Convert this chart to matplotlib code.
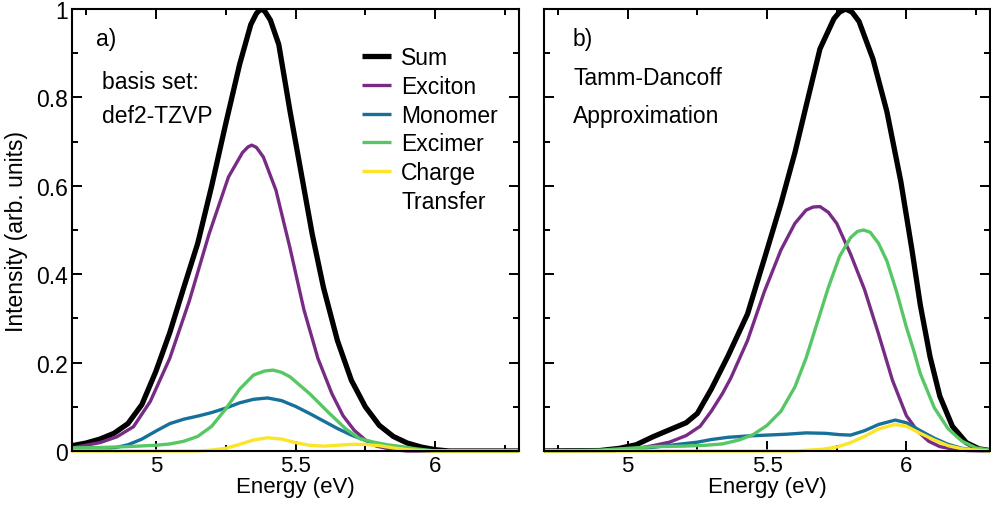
import matplotlib
matplotlib.use("Agg")
import matplotlib.pyplot as plt
from matplotlib.lines import Line2D
from matplotlib.ticker import MultipleLocator

plt.rcParams['font.family'] = ['Liberation Sans', 'DejaVu Sans']
plt.rcParams['font.size'] = 16.5

# ---- panel a) basis set def2-TZVP ----
sum_a_e = [4.70, 4.75, 4.80, 4.85, 4.90, 4.95, 5.00, 5.05, 5.10, 5.15, 5.20, 5.25, 5.30, 5.34, 5.36, 5.375,
           5.39, 5.41, 5.44, 5.48, 5.52, 5.56, 5.60, 5.65, 5.70, 5.75, 5.80, 5.85, 5.90, 5.95, 6.00, 6.05, 6.30]
sum_a_v = [0.012, 0.018, 0.027, 0.040, 0.062, 0.105, 0.180, 0.268, 0.37, 0.47, 0.60, 0.74, 0.875, 0.965, 0.99, 1.0,
           0.995, 0.975, 0.92, 0.77, 0.63, 0.49, 0.37, 0.25, 0.16, 0.10, 0.058, 0.033, 0.018, 0.009, 0.003, 0.0, 0.0]

exc_a_e = [4.70, 4.80, 4.86, 4.92, 4.98, 5.05, 5.12, 5.19, 5.26, 5.31, 5.33, 5.343, 5.36, 5.385, 5.43, 5.48,
           5.53, 5.58, 5.63, 5.67, 5.71, 5.75, 5.79, 5.85, 5.90, 6.30]
exc_a_v = [0.007, 0.019, 0.032, 0.055, 0.112, 0.21, 0.34, 0.49, 0.62, 0.675, 0.688, 0.692, 0.687, 0.665, 0.59, 0.46,
           0.32, 0.21, 0.13, 0.08, 0.047, 0.025, 0.011, 0.003, 0.0, 0.0]

mon_a_e = [4.70, 4.80, 4.85, 4.90, 4.95, 5.00, 5.05, 5.10, 5.15, 5.20, 5.25, 5.30, 5.35, 5.40, 5.45,
           5.50, 5.55, 5.60, 5.65, 5.70, 5.75, 5.80, 5.85, 5.90, 5.95, 6.30]
mon_a_v = [0.004, 0.004, 0.007, 0.014, 0.027, 0.045, 0.062, 0.072, 0.079, 0.087, 0.097, 0.109, 0.117, 0.12, 0.114,
           0.101, 0.085, 0.068, 0.051, 0.036, 0.024, 0.014, 0.008, 0.003, 0.001, 0.0]

exm_a_e = [4.70, 4.80, 4.90, 5.00, 5.05, 5.10, 5.15, 5.20, 5.25, 5.30, 5.35, 5.39, 5.42, 5.45, 5.48, 5.55,
           5.62, 5.68, 5.73, 5.78, 5.83, 5.88, 5.93, 6.00, 6.30]
exm_a_v = [0.007, 0.008, 0.010, 0.013, 0.016, 0.022, 0.033, 0.056, 0.095, 0.14, 0.172, 0.181, 0.183, 0.178, 0.168, 0.13,
           0.086, 0.05, 0.028, 0.02, 0.014, 0.01, 0.005, 0.0, 0.0]

ct_a_e = [4.70, 5.15, 5.20, 5.25, 5.30, 5.35, 5.40, 5.45, 5.50, 5.55, 5.60, 5.65, 5.70, 5.75,
          5.80, 5.85, 5.90, 5.95, 6.00, 6.30]
ct_a_v = [0.0, 0.0, 0.002, 0.006, 0.015, 0.025, 0.03, 0.027, 0.019, 0.013, 0.011, 0.013, 0.015, 0.015,
          0.012, 0.007, 0.003, 0.001, 0.0, 0.0]

# ---- panel b) Tamm-Dancoff ----
sum_b_e = [4.70, 4.90, 4.97, 5.03, 5.09, 5.15, 5.21, 5.25, 5.30, 5.36, 5.43, 5.50, 5.55, 5.60, 5.64,
           5.69, 5.74, 5.76, 5.782, 5.805, 5.83, 5.88, 5.93, 5.98, 6.02, 6.05, 6.085, 6.12, 6.165, 6.215, 6.26, 6.30]
sum_b_v = [0.0, 0.001, 0.006, 0.014, 0.032, 0.048, 0.064, 0.085, 0.14, 0.215, 0.31, 0.455, 0.56, 0.675, 0.78,
           0.91, 0.978, 0.993, 1.0, 0.993, 0.972, 0.887, 0.768, 0.61, 0.455, 0.33, 0.213, 0.124, 0.056, 0.019, 0.005, 0.001]

exc_b_e = [4.70, 4.95, 5.01, 5.09, 5.15, 5.21, 5.26, 5.30, 5.34, 5.37, 5.43, 5.49, 5.55, 5.60, 5.64, 5.665,
           5.69, 5.72, 5.75, 5.80, 5.85, 5.90, 5.95, 6.00, 6.04, 6.08, 6.12, 6.17, 6.22, 6.30]
exc_b_v = [0.0, 0.001, 0.003, 0.012, 0.02, 0.035, 0.056, 0.09, 0.13, 0.165, 0.25, 0.36, 0.455, 0.515, 0.545, 0.552,
           0.553, 0.54, 0.515, 0.445, 0.365, 0.265, 0.16, 0.08, 0.045, 0.022, 0.01, 0.004, 0.001, 0.0]

mon_b_e = [4.70, 4.95, 5.01, 5.10, 5.18, 5.25, 5.30, 5.36, 5.43, 5.50, 5.57, 5.64, 5.71, 5.76, 5.80,
           5.85, 5.90, 5.96, 6.00, 6.05, 6.10, 6.15, 6.20, 6.25, 6.30]
mon_b_v = [0.0, 0.001, 0.003, 0.009, 0.015, 0.02, 0.026, 0.031, 0.034, 0.036, 0.038, 0.041, 0.04, 0.037, 0.036,
           0.046, 0.06, 0.07, 0.064, 0.046, 0.029, 0.015, 0.006, 0.002, 0.0]

exm_b_e = [4.70, 4.90, 5.00, 5.10, 5.20, 5.28, 5.34, 5.40, 5.45, 5.50, 5.55, 5.60, 5.64, 5.68, 5.72,
           5.76, 5.80, 5.825, 5.846, 5.87, 5.90, 5.93, 5.965, 6.00, 6.025, 6.05, 6.10, 6.15, 6.20, 6.25, 6.30]
exm_b_v = [0.0, 0.002, 0.006, 0.01, 0.011, 0.013, 0.016, 0.025, 0.037, 0.058, 0.09, 0.145, 0.21, 0.29, 0.37,
           0.44, 0.483, 0.497, 0.50, 0.495, 0.47, 0.43, 0.36, 0.28, 0.23, 0.175, 0.098, 0.05, 0.022, 0.007, 0.002]

ct_b_e = [4.70, 5.60, 5.65, 5.70, 5.75, 5.80, 5.85, 5.90, 5.96, 6.00, 6.05, 6.10, 6.15, 6.20, 6.25, 6.30]
ct_b_v = [0.0, 0.0, 0.002, 0.004, 0.009, 0.019, 0.033, 0.05, 0.06, 0.056, 0.04, 0.025, 0.012, 0.005, 0.002, 0.0]

labels = ['Sum', 'Exciton', 'Monomer', 'Excimer', 'Charge']
colors = ['black', '#772b85', '#17709a', '#57c765', '#fbe42a']
widths = [3.8, 2.4, 2.4, 2.4, 2.4]

panels = [
    ([sum_a_e, exc_a_e, mon_a_e, exm_a_e, ct_a_e], [sum_a_v, exc_a_v, mon_a_v, exm_a_v, ct_a_v],
     'a)', ['basis set:', 'def2-TZVP']),
    ([sum_b_e, exc_b_e, mon_b_e, exm_b_e, ct_b_e], [sum_b_v, exc_b_v, mon_b_v, exm_b_v, ct_b_v],
     'b)', ['Tamm-Dancoff', 'Approximation']),
]

fig = plt.figure(figsize=(9.91, 5.06), dpi=100)
ax_a = fig.add_axes([0.0727, 0.1067, 0.451, 0.8735])
ax_b = fig.add_axes([0.549, 0.1067, 0.450, 0.8735])

for ax, (xs, ys, tag, note) in zip([ax_a, ax_b], panels):
    for i in range(len(labels)):
        ax.plot(xs[i], ys[i], color=colors[i], lw=widths[i], label=labels[i],
                clip_on=(i == 0), solid_capstyle='butt', solid_joinstyle='round')
    ax.set_xlim(4.7, 6.3)
    ax.set_ylim(0, 1)
    ax.xaxis.set_major_locator(MultipleLocator(0.5))
    ax.xaxis.set_minor_locator(MultipleLocator(0.25))
    ax.yaxis.set_major_locator(MultipleLocator(0.2))
    ax.yaxis.set_minor_locator(MultipleLocator(0.1))
    ax.tick_params(which='both', direction='in', top=True, right=True, width=1.4)
    ax.tick_params(which='major', length=7.5)
    ax.tick_params(which='minor', length=4.2)
    ax.tick_params(axis='x', pad=3, labelsize=16)
    ax.tick_params(axis='y', pad=3)
    for sp in ax.spines.values():
        sp.set_linewidth(1.5)
    ax.set_xlabel('Energy (eV)', labelpad=0, fontsize=16)
    x0 = 0.054 if tag == 'a)' else 0.065
    x1 = 0.067 if tag == 'a)' else 0.065
    y1 = 0.836 if tag == 'a)' else 0.845
    ax.text(x0, 0.933, tag, transform=ax.transAxes, va='center', ha='left')
    ax.text(x1, y1, note[0], transform=ax.transAxes, va='center', ha='left')
    ax.text(x1, 0.760, note[1], transform=ax.transAxes, va='center', ha='left')

ax_a.yaxis.set_major_formatter(plt.FuncFormatter(lambda v, p: f'{v:g}'))
ax_a.xaxis.set_major_formatter(plt.FuncFormatter(lambda v, p: f'{v:g}'))
ax_b.xaxis.set_major_formatter(plt.FuncFormatter(lambda v, p: f'{v:g}'))
ax_b.set_yticklabels([])
ax_a.set_ylabel('Intensity (arb. units)', labelpad=6)

# legend: "Charge Transfer" spread over two rows with an empty handle
handles, labs = ax_a.get_legend_handles_labels()
handles.append(Line2D([], [], color='none'))
labs.append('Transfer')
ax_a.legend(handles, labs, loc='upper left', bbox_to_anchor=(0.648, 0.916), frameon=False,
            borderpad=0, borderaxespad=0, handlelength=1.3, handletextpad=0.43, labelspacing=0.25)

fig.savefig('out.png', dpi=100)
